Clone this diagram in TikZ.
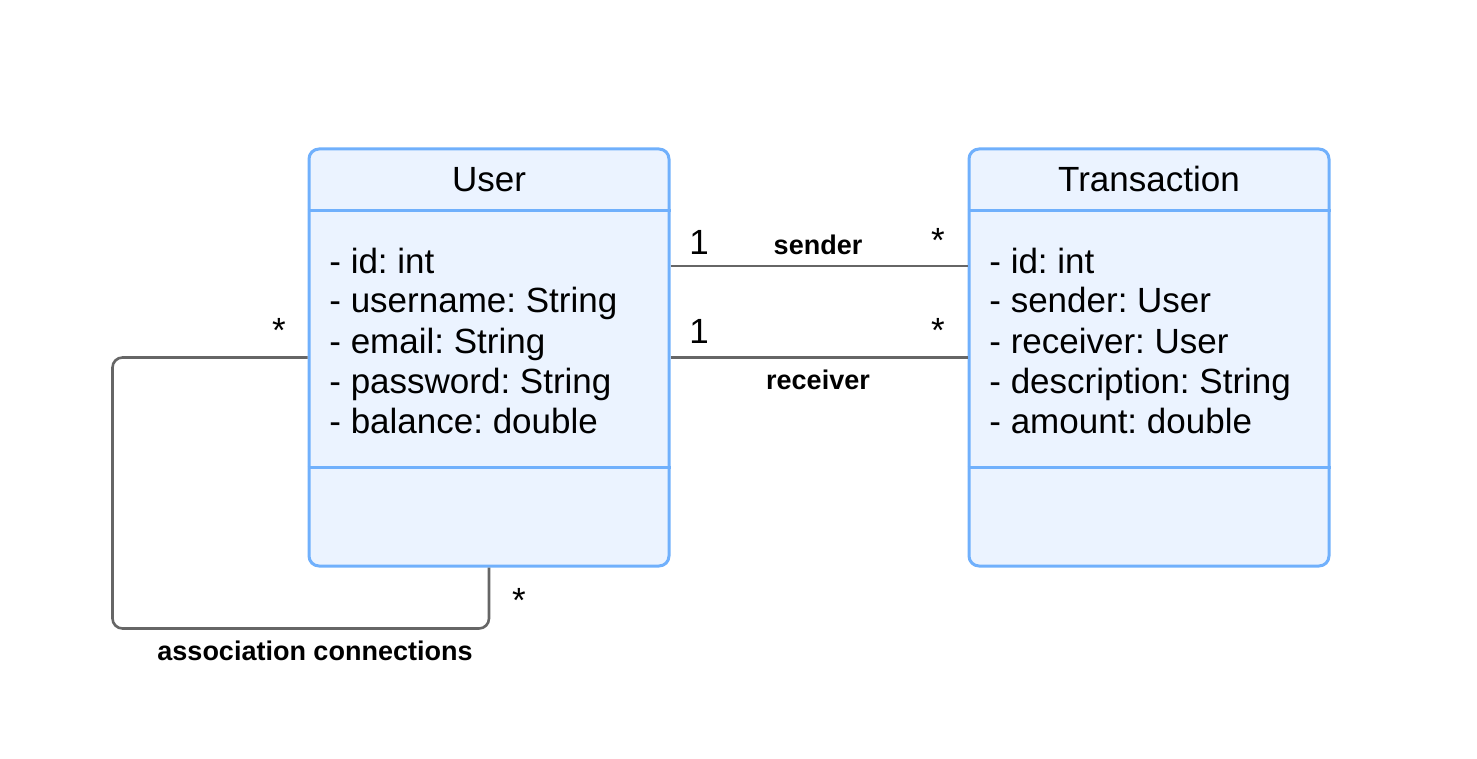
\documentclass[tikz,border=0pt]{standalone}
\usepackage{fontspec}
\setmainfont{Liberation Sans}
\usetikzlibrary{positioning, calc}

\definecolor{boxline}{RGB}{112,176,252}
\definecolor{boxfill}{RGB}{235,243,255}
\definecolor{linkgray}{RGB}{102,102,102}
\frenchspacing

\begin{document}
\begin{tikzpicture}[
    x=0.5pt, y=-0.5pt,
    classbox/.style={draw=boxline, fill=boxfill, line width=1.5pt, rounded corners=5pt,
      minimum width=180pt, minimum height=208.5pt, inner sep=0pt},
    divider/.style={draw=boxline, line width=1.5pt},
    title/.style={anchor=base, inner sep=0pt, font=\fontsize{17.5}{20}\selectfont},
    attr/.style={anchor=base west, inner sep=0pt, font=\fontsize{17.5}{20}\selectfont},
    mult/.style={inner sep=0pt, font=\fontsize{17.5}{20}\selectfont},
    role/.style={inner sep=0pt, font=\bfseries\fontsize{13.5}{16}\selectfont},
    assoc/.style={draw=linkgray, line width=1.3pt}
  ]
  \useasboundingbox (0,0) rectangle (1477,759);

  % classes
  \node[classbox] (user) at (489,357.5) {};
  \node[classbox] (trans) at (1149,357.5) {};
  \foreach \cls in {user, trans} {
    \draw[divider] ($(\cls.north west)+(0,63)$) -- ($(\cls.north east)+(0,63)$);
    \draw[divider] ($(\cls.north west)+(0,320)$) -- ($(\cls.north east)+(0,320)$);
  }
  \node[title] (usertitle) at ($(user.north)+(0,44)$) {User};
  \node[title] (transtitle) at ($(trans.north)+(0,44)$) {Transaction};

  \foreach \attr [count=\i from 0] in {- id: int, - username: String, - email: String,
      - password: String, - balance: double}
    \node[attr] (uattr\i) at (329,273+40*\i) {\attr};
  \foreach \attr [count=\i from 0] in {- id: int, - sender: User, - receiver: User,
      - description: String, - amount: double}
    \node[attr] (tattr\i) at (989,273+40*\i) {\attr};

  % associations
  \draw[assoc] ([yshift=45.75pt]user.east) -- ([yshift=45.75pt]trans.west);
  \draw[assoc] (user.east) -- (trans.west);
  \draw[assoc, rounded corners=5pt] (user.west) -- ++(-195,0) |- ([yshift=-30.5pt]user.south) -- (user.south);

  \node[mult] (m1) at (699,242) {1};
  \node[role] (sender) at (818,245) {sender};
  \node[mult] (m2) at (938,240) {*};
  \node[mult] (m3) at (699,331) {1};
  \node[mult] (m4) at (938,330) {*};
  \node[role] (receiver) at (818,380) {receiver};
  \node[mult] (m5) at (279,330) {*};
  \node[mult] (m6) at (519,600) {*};
  \node[role] (selfrole) at (315,651) {association connections};
\end{tikzpicture}
\end{document}
